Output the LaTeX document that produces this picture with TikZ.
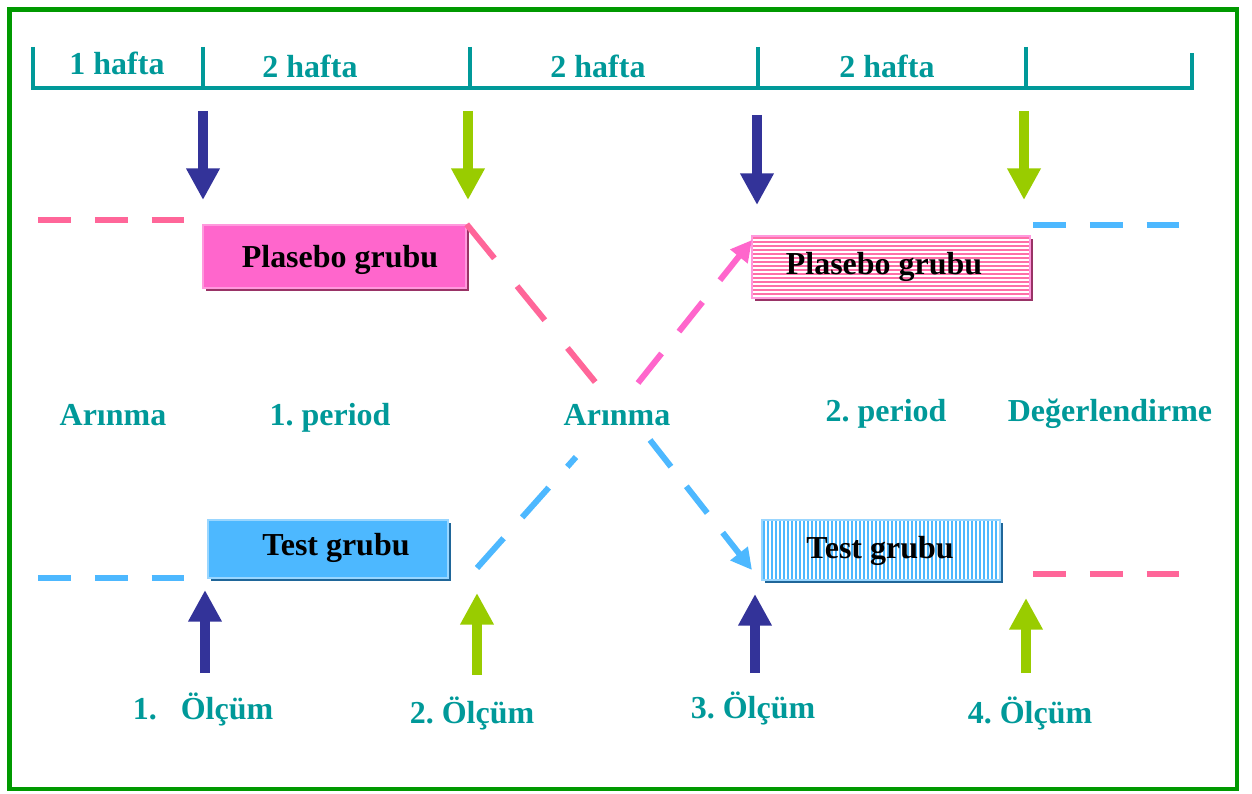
\documentclass[tikz,border=0pt]{standalone}
\usepackage{fontspec}
\setmainfont{Liberation Serif}
\usetikzlibrary{arrows.meta,calc,shadows}
\definecolor{framegreen}{HTML}{009900}
\definecolor{tealtxt}{HTML}{009999}
\definecolor{navyarr}{HTML}{333399}
\definecolor{limearr}{HTML}{99CC00}
\definecolor{rosedash}{HTML}{FF6699}
\definecolor{magdash}{HTML}{FF66CC}
\definecolor{skyblue}{HTML}{4DB8FF}
\definecolor{plumshadow}{HTML}{993366}
\definecolor{navyshadow}{HTML}{1F6699}
\definecolor{lightmag}{HTML}{FF99DD}
\definecolor{lightsky}{HTML}{99D6FF}
\definecolor{stripepink}{HTML}{FF6FA8}
\frenchspacing
\begin{document}
\begin{tikzpicture}[x=0.02cm,y=-0.02cm,
  font=\fontsize{18.2}{20}\selectfont\bfseries,
  lbl/.style={text=tealtxt, inner sep=0pt, anchor=base},
  boxtxt/.style={text=black, inner sep=0pt, anchor=base},
  bigdown/.style={line width=5.7pt, -{Triangle[width=18pt,length=18pt]}},
  flatdash/.style={line width=3.4pt, dash pattern=on 18.7pt off 13.6pt},
  diagline/.style={line width=3.4pt},
  diagtip/.style={-{Triangle[width=12pt,length=12pt]}},
  plbox/.style={general shadow={fill=plumshadow, shadow xshift=1.7pt, shadow yshift=-1.7pt}},
  tsbox/.style={general shadow={fill=navyshadow, shadow xshift=1.7pt, shadow yshift=-1.7pt}},
  timeline/.style={draw=tealtxt, line width=2.8pt}
]
\useasboundingbox (0,0) rectangle (1252,794);
% outer frame
\draw[framegreen, line width=2.4pt] (9.5,9.5) rectangle (1237,789);

% time axis with week marks
\draw[timeline] (33,47) -- (33,88) -- (1192,88) -- (1192,53);
\foreach \tx in {203,470,758,1026}
  \draw[timeline] (\tx,47) -- (\tx,88);
\node[lbl] (w1) at (117,75) {1 hafta};
\node[lbl] (w2) at (310,78) {2 hafta};
\node[lbl] (w3) at (598,78) {2 hafta};
\node[lbl] (w4) at (887,78) {2 hafta};

% group boxes
\node[plbox, fill=magdash, draw=lightmag, line width=0.8pt,
      minimum width=5.26cm, minimum height=1.26cm] (p1) at (334.5,256.5) {};
\node[boxtxt] at (340,267) {Plasebo grubu};

\node[plbox, fill=white, draw=lightmag, line width=0.8pt,
      minimum width=5.56cm, minimum height=1.24cm,
      path picture={\foreach \k in {0,...,15}
        \draw[stripepink, line width=1.2pt]
          ([yshift={-0.04cm-\k*0.08cm}]path picture bounding box.north west) -- ++(6cm,0);}]
      (p2) at (891,267) {};
\node[boxtxt] at (884,275) {Plasebo grubu};

\node[tsbox, fill=skyblue, draw=lightsky, line width=0.8pt,
      minimum width=4.8cm, minimum height=1.16cm] (t1) at (328,549) {};
\node[boxtxt] at (336,555) {Test grubu};

\node[tsbox, fill=white, draw=lightsky, line width=0.8pt,
      minimum width=4.76cm, minimum height=1.2cm,
      path picture={\foreach \k in {0,...,60}
        \draw[skyblue, line width=1.2pt]
          ([xshift={0.04cm+\k*0.08cm}]path picture bounding box.north west) -- ++(0,-2cm);}]
      (t2) at (881,550) {};
\node[boxtxt] at (880,558) {Test grubu};

% row labels
\node[lbl] (a1) at (113,425) {Arınma};
\node[lbl] (per1) at (330,425) {1. period};
\node[lbl] (a2) at (617,425) {Arınma};
\node[lbl] (per2) at (886,421) {2. period};
\node[lbl] (eval) at (1110,421) {Değerlendirme};

% measurement labels
\node[lbl] (m1) at (203,719) {1.\hspace{0.75em}Ölçüm};
\node[lbl] (m2) at (472,723) {2. Ölçüm};
\node[lbl] (m3) at (753,718) {3. Ölçüm};
\node[lbl] (m4) at (1030,723) {4. Ölçüm};

% measurement arrows
\draw[bigdown, navyarr] (203,111) -- (203,200);
\draw[bigdown, limearr] (468,111) -- (468,200);
\draw[bigdown, navyarr] (757,115) -- (757,205);
\draw[bigdown, limearr] (1024,111) -- (1024,200);
\draw[bigdown, navyarr] (205,673) -- (205,590);
\draw[bigdown, limearr] (477,675) -- (477,593);
\draw[bigdown, navyarr] (755,673) -- (755,594);
\draw[bigdown, limearr] (1026,673) -- (1026,598);

% wash-out dashes before and after the periods
\coordinate (ptl) at (38,220);  \coordinate (ptr) at (185,220);
\coordinate (btl) at (38,578);  \coordinate (btr) at (185,578);
\coordinate (prl) at (1033,225); \coordinate (prr) at (1180,225);
\coordinate (brl) at (1033,574); \coordinate (brr) at (1180,574);
\draw[flatdash, rosedash] (ptl) -- (ptr);
\draw[flatdash, skyblue] (btl) -- (btr);
\draw[flatdash, skyblue] (prl) -- (prr);
\draw[flatdash, rosedash] (brl) -- (brr);

% cross-over connectors
\coordinate (x1a) at (596,383);
\coordinate (x1b) at (650,440);
\coordinate (t2in) at (752,570);
\coordinate (t1out) at (477,568);
\coordinate (x2a) at (576,457);
\coordinate (x2b) at (638,383);
\coordinate (p2in) at (752,240);
\draw[diagline, rosedash, dash pattern=on 25pt off 20.4pt] (p1.north east) -- (x1a);
\draw[diagline, diagtip, skyblue, dash pattern=on 19.3pt off 14.2pt] (x1b) -- (t2in);
\draw[diagline, skyblue, dash pattern=on 22.7pt off 15.9pt] (t1out) -- (x2a);
\draw[diagline, diagtip, magdash, dash pattern=on 21.5pt off 15.9pt] (x2b) -- (p2in);
\end{tikzpicture}
\end{document}
